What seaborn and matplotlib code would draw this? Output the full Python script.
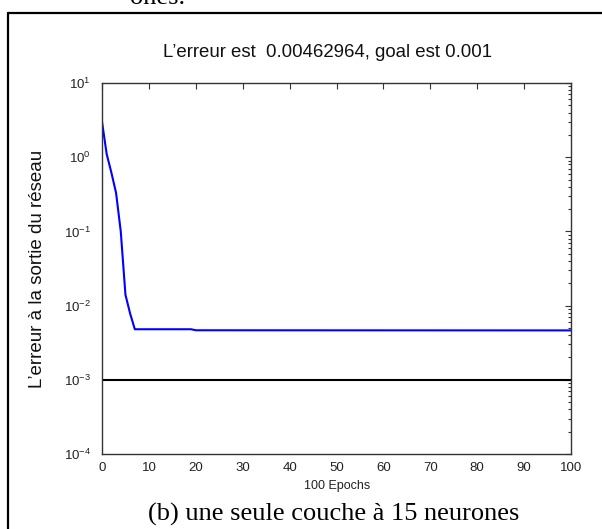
import numpy as np
import pandas as pd
import matplotlib
matplotlib.use("Agg")
import matplotlib.pyplot as plt
from matplotlib.lines import Line2D
from matplotlib.ticker import LogLocator, FixedLocator
import seaborn as sns

# Data
epochs = [0, 1, 2, 3, 4, 5, 6, 7, 19, 20, 100]
errors = [3.0, 1.1, 0.62, 0.33, 0.1, 0.014, 0.0078, 0.0048, 0.0048, 0.00465, 0.00463]
goal = 0.001
title_text = "L\u2019erreur est  0.00462964, goal est 0.001"
ylabel_text = "L\u2019erreur à la sortie du réseau"
xlabel_text = "100 Epochs"
caption_text = "(b) une seule couche à 15 neurones"
top_fragment = "ones."
xticks = [0, 10, 20, 30, 40, 50, 60, 70, 80, 90, 100]

sns.set_style("white")
plt.rcParams['font.family'] = ['Liberation Sans', 'DejaVu Sans']
plt.rcParams['mathtext.fontset'] = 'custom'
plt.rcParams['mathtext.rm'] = 'Liberation Sans'
plt.rcParams['mathtext.it'] = 'Liberation Sans'

W, H = 602, 529
fig = plt.figure(figsize=(W / 100, H / 100), dpi=100)
fig.patch.set_facecolor("white")

def fx(px):
    return px / W

def fy(py):
    return 1 - py / H

L, R, T, B = 102, 571, 83, 454
ax = fig.add_axes([L / W, 1 - B / H, (R - L) / W, (B - T) / H])

df = pd.DataFrame({"epoch": epochs, "err": errors})
sns.lineplot(data=df, x="epoch", y="err", ax=ax, color="#0000ff", linewidth=1.5)
ax.axhline(goal, color="black", linewidth=1.5)

ax.set_yscale("log")
ax.set_xlim(0, 100)
ax.set_ylim(1e-4, 1e1)
ax.xaxis.set_major_locator(FixedLocator(xticks))
ax.set_xticklabels([str(t) for t in xticks])
ax.yaxis.set_major_locator(LogLocator(base=10, numticks=10))
ax.yaxis.set_minor_locator(LogLocator(base=10, subs=np.arange(2, 10), numticks=10))
ax.set_xlabel("")
ax.set_ylabel("")

for s in ax.spines.values():
    s.set_color("#333333")
    s.set_linewidth(1.0)

ax.tick_params(axis="both", which="both", direction="in", top=True, right=True,
               colors="#333333", labelcolor="#222222", labelsize=9.5)
ax.tick_params(which="major", length=4.5, width=0.8)
ax.tick_params(which="minor", length=2.5, width=0.8)
ax.tick_params(axis="x", pad=6)
ax.tick_params(axis="y", pad=8)
ax.grid(False)

fig.text(fx(327.5), fy(57), title_text, ha="center", va="baseline",
         fontsize=13.4, color="#111111")
fig.text(fx(337.5), fy(489), xlabel_text, ha="center", va="baseline",
         fontsize=9, color="#222222")
fig.text(fx(38), fy(269), ylabel_text, ha="center", va="center", rotation=90,
         fontsize=13.5, color="#111111")

fig.text(fx(333.5), fy(521), caption_text, ha="center", va="baseline",
         fontsize=19, family=["Liberation Serif", "DejaVu Serif"], color="black")
fig.text(fx(130), fy(4), top_fragment, ha="left", va="baseline",
         fontsize=19, family=["Liberation Serif", "DejaVu Serif"], color="black")

# page frame lines
fig.add_artist(Line2D([fx(7.5), 1.0], [fy(12.5), fy(12.5)], color="black", linewidth=1.6,
                      transform=fig.transFigure))
fig.add_artist(Line2D([fx(7.5), fx(7.5)], [0, fy(12.5)], color="black", linewidth=1.6,
                      transform=fig.transFigure))

fig.savefig("out.png", dpi=100, facecolor="white")
